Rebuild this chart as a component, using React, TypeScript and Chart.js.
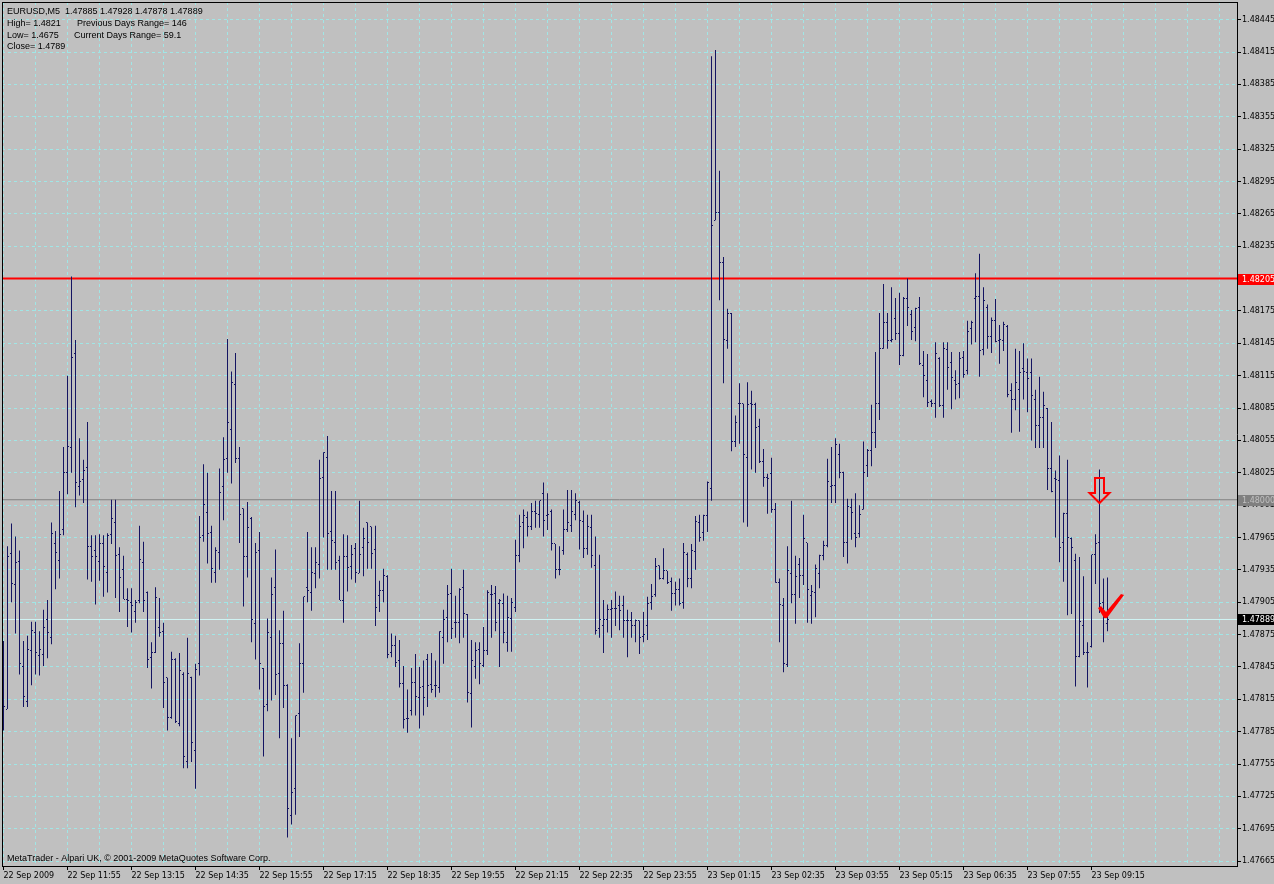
import React, { useEffect, useRef } from "react";
import { Chart, registerables } from "chart.js";
Chart.register(...registerables);

const SYMBOL = "EURUSD,M5";

const OPEN = [
  1.47814,1.47806,1.47950,1.47921,1.47943,1.47845,1.47813,1.47860,1.47877,1.47856,
  1.47857,1.47889,1.47872,1.47959,1.47944,1.47972,1.48025,1.48048,1.48136,1.48012,
  1.48019,1.48030,1.47957,1.47953,1.47943,1.47959,1.47933,1.47968,1.47979,1.47949,
  1.47935,1.47908,1.47905,1.47896,1.47907,1.47942,1.47914,1.47854,1.47858,1.47882,
  1.47878,1.47835,1.47798,1.47852,1.47793,1.47838,1.47757,1.47835,1.47768,1.47848,
  1.47967,1.47988,1.47970,1.47933,1.47951,1.48012,1.48038,1.48065,1.48107,1.48038,
  1.47992,1.47947,1.47983,1.47885,1.47953,1.47844,1.47810,1.47872,1.47919,1.47839,
  1.47867,1.47828,1.47707,1.47732,1.47802,1.47848,1.47919,1.47914,1.47932,1.47940,
  1.48021,1.48039,1.47971,1.47960,1.47944,1.47907,1.47947,1.47938,1.47955,1.47932,
  1.47956,1.47979,1.47975,1.47954,1.47911,1.47916,1.47929,1.47858,1.47865,1.47851,
  1.47830,1.47797,1.47805,1.47831,1.47817,1.47827,1.47852,1.47829,1.47828,1.47826,
  1.47872,1.47891,1.47913,1.47886,1.47886,1.47919,1.47894,1.47820,1.47845,1.47861,
  1.47846,1.47860,1.47912,1.47913,1.47904,1.47904,1.47868,1.47890,1.47900,1.47948,
  1.47979,1.47984,1.47975,1.47989,1.47986,1.48006,1.47985,1.47989,1.47959,1.47935,
  1.47953,1.47972,1.47976,1.47986,1.47997,1.47980,1.47955,1.47974,1.47939,1.47881,
  1.47883,1.47889,1.47898,1.47899,1.47902,1.47902,1.47888,1.47888,1.47883,1.47888,
  1.47873,1.47883,1.47905,1.47912,1.47939,1.47927,1.47934,1.47924,1.47913,1.47917,
  1.47905,1.47949,1.47927,1.47952,1.47979,1.47970,1.47985,1.48010,1.48259,1.48266,
  1.48220,1.48148,1.48173,1.48054,1.48089,1.48089,1.48039,1.48089,1.48088,1.48068,
  1.48035,1.48021,1.48024,1.47991,1.47923,1.47902,1.47847,1.47932,1.47912,1.47940,
  1.47930,1.47960,1.47911,1.47914,1.47932,1.47948,1.47958,1.48012,1.48013,1.48042,
  1.48025,1.47960,1.47993,1.47969,1.47969,1.47991,1.48032,1.48046,1.48062,1.48089,
  1.48140,1.48164,1.48148,1.48168,1.48154,1.48134,1.48187,1.48172,1.48160,1.48178,
  1.48124,1.48111,1.48091,1.48089,1.48131,1.48087,1.48139,1.48127,1.48111,1.48108,
  1.48132,1.48120,1.48159,1.48187,1.48188,1.48139,1.48178,1.48151,1.48166,1.48148,
  1.48148,1.48161,1.48101,1.48093,1.48102,1.48122,1.48118,1.48118,1.48093,1.48069,
  1.48076,1.48085,1.48029,1.48020,1.48018,1.47960,1.47987,1.47964,1.47944,1.47855,
  1.47883,1.47858,1.47864,1.47949,1.47960,1.47905,1.47885
];

const HIGH = [
  1.47869,1.47957,1.47978,1.47966,1.47953,1.47869,1.47874,1.47887,1.47887,1.47878,
  1.47898,1.47907,1.47979,1.47971,1.48008,1.48049,1.48115,1.48207,1.48148,1.48057,
  1.48037,1.48072,1.47967,1.47967,1.47968,1.47967,1.47969,1.48000,1.48000,1.47956,
  1.47948,1.47918,1.47918,1.47907,1.47976,1.47961,1.47915,1.47868,1.47919,1.47909,
  1.47886,1.47835,1.47859,1.47853,1.47858,1.47840,1.47872,1.47836,1.47848,1.47985,
  1.48033,1.48025,1.47976,1.47956,1.48029,1.48058,1.48149,1.48119,1.48136,1.48049,
  1.47992,1.47998,1.47984,1.47960,1.47970,1.47844,1.47890,1.47928,1.47954,1.47879,
  1.47897,1.47829,1.47779,1.47800,1.47867,1.47910,1.47970,1.47956,1.47956,1.48037,
  1.48044,1.48059,1.48008,1.48008,1.47948,1.47968,1.47967,1.47958,1.47960,1.47999,
  1.47974,1.47979,1.47975,1.47976,1.47925,1.47936,1.47930,1.47876,1.47874,1.47870,
  1.47846,1.47824,1.47844,1.47857,1.47845,1.47851,1.47857,1.47858,1.47851,1.47878,
  1.47898,1.47921,1.47936,1.47911,1.47918,1.47935,1.47894,1.47870,1.47868,1.47868,
  1.47882,1.47916,1.47921,1.47920,1.47908,1.47913,1.47911,1.47909,1.47963,1.47986,
  1.47991,1.47989,1.47997,1.47999,1.47999,1.48016,1.48006,1.47991,1.47959,1.47957,
  1.47991,1.48009,1.48009,1.48006,1.47999,1.47990,1.47986,1.47986,1.47966,1.47949,
  1.47907,1.47903,1.47907,1.47915,1.47911,1.47911,1.47898,1.47896,1.47889,1.47888,
  1.47896,1.47910,1.47922,1.47946,1.47939,1.47955,1.47934,1.47928,1.47924,1.47927,
  1.47960,1.47951,1.47959,1.47985,1.47986,1.47986,1.48017,1.48411,1.48417,1.48305,
  1.48225,1.48177,1.48173,1.48078,1.48108,1.48089,1.48109,1.48101,1.48090,1.48075,
  1.48047,1.48024,1.48039,1.47997,1.47927,1.47909,1.47957,1.47999,1.47948,1.47946,
  1.47986,1.47960,1.47921,1.47940,1.47949,1.47962,1.48038,1.48049,1.48057,1.48052,
  1.48026,1.48001,1.48001,1.48006,1.47995,1.48054,1.48047,1.48088,1.48137,1.48173,
  1.48200,1.48173,1.48197,1.48187,1.48192,1.48188,1.48205,1.48176,1.48178,1.48188,
  1.48138,1.48135,1.48093,1.48146,1.48132,1.48146,1.48146,1.48137,1.48120,1.48137,
  1.48138,1.48166,1.48166,1.48210,1.48228,1.48197,1.48181,1.48169,1.48186,1.48162,
  1.48165,1.48162,1.48108,1.48140,1.48138,1.48145,1.48131,1.48131,1.48102,1.48114,
  1.48100,1.48085,1.48072,1.48027,1.48041,1.47988,1.48037,1.47965,1.47950,1.47947,
  1.47929,1.47868,1.47949,1.47968,1.48028,1.47927,1.47928
];

const LOW = [
  1.47786,1.47806,1.47905,1.47876,1.47838,1.47808,1.47808,1.47828,1.47838,1.47837,
  1.47846,1.47853,1.47866,1.47917,1.47927,1.47967,1.48005,1.48025,1.47993,1.48004,
  1.47997,1.47926,1.47924,1.47903,1.47925,1.47910,1.47914,1.47959,1.47909,1.47896,
  1.47908,1.47882,1.47877,1.47886,1.47904,1.47896,1.47844,1.47825,1.47858,1.47873,
  1.47807,1.47786,1.47797,1.47793,1.47790,1.47751,1.47751,1.47757,1.47732,1.47837,
  1.47961,1.47941,1.47923,1.47923,1.47935,1.47981,1.48025,1.48015,1.48034,1.47960,
  1.47901,1.47928,1.47868,1.47852,1.47824,1.47762,1.47804,1.47814,1.47819,1.47779,
  1.47807,1.47687,1.47699,1.47708,1.47780,1.47821,1.47905,1.47897,1.47918,1.47927,
  1.47965,1.47935,1.47935,1.47935,1.47907,1.47886,1.47915,1.47926,1.47923,1.47932,
  1.47929,1.47936,1.47936,1.47883,1.47896,1.47905,1.47853,1.47854,1.47845,1.47826,
  1.47788,1.47784,1.47800,1.47800,1.47788,1.47800,1.47808,1.47821,1.47817,1.47821,
  1.47848,1.47868,1.47871,1.47872,1.47867,1.47872,1.47812,1.47789,1.47834,1.47829,
  1.47845,1.47856,1.47872,1.47878,1.47845,1.47867,1.47859,1.47859,1.47896,1.47942,
  1.47955,1.47966,1.47972,1.47974,1.47974,1.47966,1.47972,1.47953,1.47927,1.47930,
  1.47949,1.47970,1.47970,1.47981,1.47954,1.47946,1.47949,1.47937,1.47875,1.47872,
  1.47858,1.47877,1.47872,1.47883,1.47879,1.47872,1.47854,1.47872,1.47868,1.47857,
  1.47868,1.47870,1.47898,1.47910,1.47926,1.47926,1.47922,1.47897,1.47902,1.47902,
  1.47899,1.47919,1.47918,1.47935,1.47961,1.47962,1.47970,1.47999,1.48259,1.48185,
  1.48108,1.48140,1.48045,1.48049,1.48052,1.47979,1.47975,1.48028,1.48025,1.48034,
  1.48012,1.47987,1.47988,1.47923,1.47868,1.47840,1.47845,1.47904,1.47885,1.47909,
  1.47921,1.47886,1.47885,1.47891,1.47918,1.47944,1.47956,1.47997,1.47997,1.48020,
  1.47947,1.47941,1.47963,1.47956,1.47965,1.47991,1.48021,1.48031,1.48048,1.48074,
  1.48140,1.48140,1.48146,1.48148,1.48125,1.48133,1.48161,1.48148,1.48147,1.48125,
  1.48095,1.48086,1.48086,1.48076,1.48086,1.48076,1.48102,1.48084,1.48093,1.48094,
  1.48113,1.48116,1.48144,1.48146,1.48114,1.48134,1.48140,1.48136,1.48146,1.48126,
  1.48138,1.48095,1.48062,1.48083,1.48063,1.48093,1.48081,1.48055,1.48048,1.48048,
  1.48048,1.48009,1.48007,1.47965,1.47942,1.47924,1.47893,1.47894,1.47827,1.47854,
  1.47856,1.47826,1.47863,1.47922,1.47895,1.47868,1.47878
];

const CLOSE = [
  1.47808,1.47947,1.47922,1.47942,1.47848,1.47818,1.47861,1.47879,1.47858,1.47861,
  1.47882,1.47877,1.47969,1.47951,1.47968,1.48025,1.48049,1.48132,1.48016,1.48017,
  1.48027,1.47957,1.47947,1.47947,1.47959,1.47938,1.47967,1.47983,1.47948,1.47928,
  1.47908,1.47907,1.47902,1.47905,1.47945,1.47907,1.47852,1.47858,1.47909,1.47877,
  1.47831,1.47798,1.47852,1.47794,1.47842,1.47762,1.47839,1.47775,1.47843,1.47965,
  1.47996,1.47969,1.47936,1.47953,1.48007,1.48037,1.48072,1.48109,1.48038,1.47986,
  1.47947,1.47974,1.47889,1.47951,1.47848,1.47808,1.47877,1.47912,1.47838,1.47867,
  1.47828,1.47714,1.47729,1.47800,1.47848,1.47910,1.47916,1.47933,1.47942,1.48020,
  1.48044,1.47969,1.47962,1.47942,1.47907,1.47947,1.47937,1.47949,1.47933,1.47949,
  1.47964,1.47960,1.47950,1.47900,1.47916,1.47930,1.47857,1.47865,1.47849,1.47830,
  1.47796,1.47797,1.47831,1.47818,1.47826,1.47817,1.47828,1.47824,1.47828,1.47878,
  1.47889,1.47912,1.47881,1.47886,1.47917,1.47895,1.47821,1.47851,1.47860,1.47848,
  1.47860,1.47914,1.47912,1.47886,1.47907,1.47877,1.47891,1.47905,1.47948,1.47975,
  1.47985,1.47975,1.47989,1.47987,1.47999,1.47981,1.47986,1.47959,1.47935,1.47935,
  1.47972,1.47979,1.47989,1.47999,1.47981,1.47955,1.47975,1.47948,1.47879,1.47889,
  1.47889,1.47898,1.47899,1.47899,1.47897,1.47888,1.47888,1.47883,1.47888,1.47872,
  1.47875,1.47904,1.47910,1.47938,1.47927,1.47934,1.47923,1.47913,1.47917,1.47904,
  1.47951,1.47927,1.47953,1.47980,1.47965,1.47985,1.48016,1.48254,1.48266,1.48220,
  1.48149,1.48173,1.48054,1.48072,1.48089,1.48042,1.48088,1.48088,1.48067,1.48035,
  1.48021,1.48020,1.47991,1.47923,1.47903,1.47848,1.47934,1.47912,1.47929,1.47930,
  1.47964,1.47917,1.47915,1.47936,1.47948,1.47958,1.48017,1.48013,1.48051,1.48025,
  1.47960,1.47994,1.47988,1.47965,1.47986,1.48025,1.48046,1.48062,1.48089,1.48140,
  1.48164,1.48148,1.48149,1.48154,1.48134,1.48187,1.48178,1.48156,1.48177,1.48126,
  1.48115,1.48090,1.48089,1.48136,1.48087,1.48140,1.48123,1.48113,1.48107,1.48131,
  1.48116,1.48156,1.48164,1.48188,1.48138,1.48185,1.48151,1.48166,1.48147,1.48149,
  1.48162,1.48098,1.48093,1.48109,1.48118,1.48119,1.48112,1.48097,1.48069,1.48076,
  1.48087,1.48029,1.48008,1.48019,1.47956,1.47987,1.47965,1.47956,1.47855,1.47887,
  1.47858,1.47858,1.47949,1.47959,1.47904,1.47892,1.47889
];

const X_LABELS = [
  "22 Sep 2009", "22 Sep 11:55", "22 Sep 13:15", "22 Sep 14:35", "22 Sep 15:55",
  "22 Sep 17:15", "22 Sep 18:35", "22 Sep 19:55", "22 Sep 21:15", "22 Sep 22:35",
  "22 Sep 23:55", "23 Sep 01:15", "23 Sep 02:35", "23 Sep 03:55", "23 Sep 05:15",
  "23 Sep 06:35", "23 Sep 07:55", "23 Sep 09:15"
];
const X_LABEL_EVERY = 16;
const X_GRID_EVERY = 8;

const Y_TICKS = [
  1.47665, 1.47695, 1.47725, 1.47755, 1.47785, 1.47815, 1.47845, 1.47875, 1.47905,
  1.47935, 1.47965, 1.47995, 1.48025, 1.48055, 1.48085, 1.48115, 1.48145, 1.48175,
  1.48205, 1.48235, 1.48265, 1.48295, 1.48325, 1.48355, 1.48385, 1.48415, 1.48445
];

const RED_LEVEL = 1.48205;
const ROUND_LEVEL = 1.48;
const BID_PRICE = 1.47889;
const ARROW_BAR = 274;
const ARROW_PRICE = 1.47997;
const CHECK_BAR = 275;

const INFO_LEFT = ["High= 1.4821", "Low= 1.4675", "Close= 1.4789"];
const INFO_RIGHT = ["Previous Days Range= 146", "Current Days Range= 59.1", ""];
const COPYRIGHT = "MetaTrader - Alpari UK, \u00A9 2001-2009 MetaQuotes Software Corp.";

const X_MIN = -0.375;
const X_MAX = 308.375;
const Y_MIN = 1.476605;
const Y_MAX = 1.484614;

const BG = "#C0C0C0";
const BAR_COLOR = "#141462";
const GRID_COLOR = "#A0E6E6";
const FONT = '"Liberation Sans", Arial, sans-serif';
const AXIS_FONT = '"DejaVu Sans", sans-serif';

export default function App() {
  const ref = useRef<HTMLCanvasElement | null>(null);

  useEffect(() => {
    const canvas = ref.current;
    if (!canvas) return;

    const mkTick = (left: boolean) => {
      const c = document.createElement("canvas");
      c.width = 3;
      c.height = 1;
      const g = c.getContext("2d")!;
      g.fillStyle = BAR_COLOR;
      g.fillRect(left ? 0 : 2, 0, 1, 1);
      return c;
    };
    const openImg = mkTick(true);
    const closeImg = mkTick(false);

    const bgPlugin = {
      id: "bg",
      beforeDraw(chart: any) {
        const ctx = chart.ctx;
        ctx.save();
        ctx.fillStyle = BG;
        ctx.fillRect(0, 0, chart.width, chart.height);
        ctx.restore();
      },
      beforeDatasetsDraw(chart: any) {
        chart.ctx.imageSmoothingEnabled = false;
      },
      afterDatasetsDraw(chart: any) {
        const ctx = chart.ctx;
        chart.ctx.imageSmoothingEnabled = true;
        const xs = chart.scales.x;
        const ys = chart.scales.y;
        ctx.save();
        const ax = xs.getPixelForValue(ARROW_BAR);
        const ty = ys.getPixelForValue(ARROW_PRICE);
        ctx.strokeStyle = "#FF0000";
        ctx.lineWidth = 2;
        ctx.lineJoin = "miter";
        ctx.beginPath();
        ctx.moveTo(ax - 4.5, ty - 25);
        ctx.lineTo(ax + 4.5, ty - 25);
        ctx.lineTo(ax + 4.5, ty - 10);
        ctx.lineTo(ax + 10, ty - 10);
        ctx.lineTo(ax, ty);
        ctx.lineTo(ax - 10, ty - 10);
        ctx.lineTo(ax - 4.5, ty - 10);
        ctx.closePath();
        ctx.stroke();
        const cx = xs.getPixelForValue(CHECK_BAR);
        const cy = ys.getPixelForValue(BID_PRICE);
        ctx.fillStyle = "#FF0000";
        ctx.beginPath();
        ctx.moveTo(cx - 5.5, cy - 11.5);
        ctx.lineTo(cx - 2.5, cy - 13.5);
        ctx.lineTo(cx + 2.5, cy - 7.5);
        ctx.lineTo(cx + 17.5, cy - 25.5);
        ctx.lineTo(cx + 20.5, cy - 24.5);
        ctx.lineTo(cx + 3.5, cy - 1.5);
        ctx.lineTo(cx + 0.5, cy - 1.5);
        ctx.closePath();
        ctx.fill();
        ctx.restore();
      },
      afterDraw(chart: any) {
        const ctx = chart.ctx;
        const ca = chart.chartArea;
        const ys = chart.scales.y;
        ctx.save();
        ctx.fillStyle = "#000";
        ctx.fillRect(ca.left, ca.top, 1, ca.bottom - ca.top);
        ctx.fillRect(ca.left, ca.top, ca.right - ca.left, 1);

        ctx.font = "9px " + FONT;
        ctx.textAlign = "left";
        ctx.textBaseline = "alphabetic";
        ctx.fillStyle = "#000";
        const last = OPEN.length - 1;
        ctx.fillText(
          `${SYMBOL}  ${OPEN[last].toFixed(5)} ${HIGH[last].toFixed(5)} ${LOW[last].toFixed(5)} ${CLOSE[last].toFixed(5)}`,
          7, 14
        );
        const rx = [77, 74, 74];
        INFO_LEFT.forEach((t, i) => {
          const yy = 26 + i * 11.6;
          ctx.fillText(t, 7, yy);
          if (INFO_RIGHT[i]) ctx.fillText(INFO_RIGHT[i], rx[i], yy);
        });
        ctx.fillText(COPYRIGHT, 7, 861);

        ctx.font = "8px " + AXIS_FONT;
        const tag = (price: number, bg: string, fg: string) => {
          const y = Math.round(ys.getPixelForValue(price));
          ctx.fillStyle = bg;
          ctx.fillRect(ca.right + 1, y - 5, chart.width - ca.right - 1, 11);
          ctx.fillStyle = fg;
          ctx.textBaseline = "middle";
          ctx.fillText(price.toFixed(5), ca.right + 5, y + 0.5);
        };
        tag(RED_LEVEL, "#FF0000", "#FFFFFF");
        tag(ROUND_LEVEL, "#808080", "#C0C0C0");
        tag(BID_PRICE, "#000000", "#FFFFFF");
        ctx.restore();
      },
    };

    const levelLine = (price: number, color: string, width: number) => ({
      type: "line",
      data: [{ x: X_MIN, y: price }, { x: X_MAX, y: price }],
      borderColor: color,
      borderWidth: width,
      pointRadius: 0,
      order: 5,
    });

    const chart = new Chart(canvas, {
      type: "bar",
      data: {
        datasets: [
          levelLine(RED_LEVEL, "#FF0000", 2),
          levelLine(ROUND_LEVEL, "#808080", 1),
          levelLine(BID_PRICE, "#D0F4F4", 1),
          {
            type: "bar",
            data: OPEN.map((_, i) => ({ x: i, y: [LOW[i], HIGH[i]] })),
            backgroundColor: BAR_COLOR,
            borderWidth: 0,
            barThickness: 1,
            inflateAmount: 0,
            grouped: false,
            order: 2,
          },
          {
            type: "scatter",
            data: OPEN.map((v, i) => ({ x: i, y: v })),
            pointStyle: openImg,
            pointRadius: 1,
            order: 1,
          },
          {
            type: "scatter",
            data: CLOSE.map((v, i) => ({ x: i, y: v })),
            pointStyle: closeImg,
            pointRadius: 1,
            order: 1,
          },
        ] as any,
      },
      options: {
        animation: false,
        responsive: false,
        maintainAspectRatio: false,
        events: [],
        layout: { autoPadding: false, padding: { left: 2, top: 2, right: 0, bottom: 0 } },
        plugins: { legend: { display: false }, tooltip: { enabled: false } },
        scales: {
          x: {
            type: "linear",
            min: X_MIN,
            max: X_MAX,
            offset: false,
            afterBuildTicks: (s: any) => {
              const t = [];
              for (let v = 0; v <= X_MAX; v += X_GRID_EVERY) t.push({ value: v });
              s.ticks = t;
            },
            afterFit: (s: any) => {
              s.height = 18;
              s.paddingLeft = 0;
              s.paddingRight = 0;
            },
            grid: {
              offset: false,
              color: GRID_COLOR,
              lineWidth: 1,
              tickLength: 4,
              tickColor: (c: any) =>
                c.tick && c.tick.value % X_LABEL_EVERY === 0 && X_LABELS[c.tick.value / X_LABEL_EVERY]
                  ? "#000"
                  : "rgba(0,0,0,0)",
            },
            border: { display: true, color: "#000", width: 1, dash: [3, 3] },
            ticks: {
              autoSkip: false,
              maxRotation: 0,
              minRotation: 0,
              align: "start",
              padding: 1,
              color: "#000",
              font: { family: AXIS_FONT, size: 8 },
              callback: (v: any) => {
                const k = Math.round(Number(v));
                return k % X_LABEL_EVERY === 0 ? X_LABELS[k / X_LABEL_EVERY] || "" : "";
              },
            },
          },
          y: {
            type: "linear",
            position: "right",
            min: Y_MIN,
            max: Y_MAX,
            beginAtZero: false,
            afterBuildTicks: (s: any) => {
              s.ticks = Y_TICKS.map((v) => ({ value: v }));
            },
            afterFit: (s: any) => {
              s.width = 37;
              s.paddingTop = 0;
              s.paddingBottom = 0;
            },
            grid: { color: GRID_COLOR, lineWidth: 1, tickLength: 4, tickColor: "#000" },
            border: { display: true, color: "#000", width: 1, dash: [3, 3] },
            ticks: {
              padding: 1,
              color: "#000",
              font: { family: AXIS_FONT, size: 8 },
              callback: (v: any) => Number(v).toFixed(5),
            },
          },
        },
      } as any,
      plugins: [bgPlugin as any],
    });

    return () => chart.destroy();
  }, []);

  return (
    <div style={{ position: "fixed", left: 0, top: 0, width: 1274, height: 884, background: BG }}>
      <canvas ref={ref} width={1274} height={884} style={{ display: "block" }} />
    </div>
  );
}
